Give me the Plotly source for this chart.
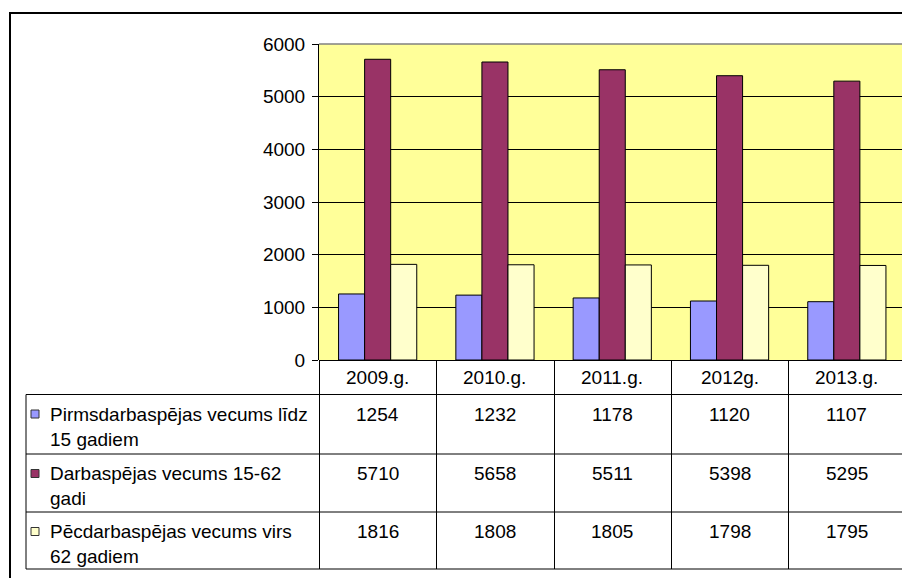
import plotly.graph_objects as go

categories = ["2009.g.", "2010.g.", "2011.g.", "2012g.", "2013.g."]
series_names = [
    "Pirmsdarbaspējas vecums līdz<br>15 gadiem",
    "Darbaspējas vecums 15-62<br>gadi",
    "Pēcdarbaspējas vecums virs<br>62 gadiem",
]
pre_working = [1254, 1232, 1178, 1120, 1107]
working = [5710, 5658, 5511, 5398, 5295]
post_working = [1816, 1808, 1805, 1798, 1795]
series_values = [pre_working, working, post_working]
colors = ["#9999FF", "#993366", "#FFFFCC"]
y_ticks = [0, 1000, 2000, 3000, 4000, 5000, 6000]

W, H = 902, 578
FONT = "Liberation Sans, Arial, sans-serif"
FS = 19


def px(x):
    return x / W


def py(y):
    return 1 - y / H


# plot area geometry (pixels)
PL, PR, PT, PB = 319, 902, 44, 360
CAT_W = 117.3
x_range = [-0.5, -0.5 + (PR - PL) / CAT_W]


def xcat(v):
    return PL + (v - x_range[0]) / (x_range[1] - x_range[0]) * (PR - PL)


xs = list(range(len(categories)))
fig = go.Figure()
for name, vals, col in zip(series_names, series_values, colors):
    fig.add_trace(go.Bar(
        x=xs, y=vals, name=name.replace("<br>", " "),
        marker=dict(color=col, line=dict(color="black", width=1)),
        hoverinfo="y",
    ))

shapes = []
annotations = []


def hline(y, x0, x1, color="black", width=1):
    shapes.append(dict(type="line", xref="paper", yref="paper",
                       x0=px(x0), x1=px(x1), y0=py(y), y1=py(y),
                       line=dict(color=color, width=width), layer="above"))


def vline(x, y0, y1, color="black", width=1):
    shapes.append(dict(type="line", xref="paper", yref="paper",
                       x0=px(x), x1=px(x), y0=py(y0), y1=py(y1),
                       line=dict(color=color, width=width), layer="above"))


# outer chart border (cropped at right/bottom)
shapes.append(dict(type="rect", xref="paper", yref="paper",
                   x0=px(10), x1=px(920), y0=py(13), y1=py(600),
                   line=dict(color="black", width=2), fillcolor="rgba(0,0,0,0)",
                   layer="below"))

# plot area top border (gray)
hline(PT, PL, PR, color="#808080", width=1.5)

# data table
TABLE_L = 26
row_edges = [394.5, 454, 512, 569]
for y in row_edges:
    hline(y, TABLE_L, PR)
vline(TABLE_L, row_edges[0], row_edges[-1])
for i in range(len(categories) + 1):
    xb = xcat(i - 0.5)
    if xb <= PR:
        vline(round(xb) + 0.5, PB, row_edges[-1])

# category header labels
for i, c in enumerate(categories):
    annotations.append(dict(x=i, xref="x", y=py(377.5), yref="paper",
                            text=c, showarrow=False, xanchor="center", yanchor="middle",
                            font=dict(family=FONT, size=FS, color="black")))

# series rows
for r, (name, vals, col) in enumerate(zip(series_names, series_values, colors)):
    top = row_edges[r]
    shapes.append(dict(type="rect", xref="paper", yref="paper",
                       x0=px(31), x1=px(39), y0=py(top + 15.5), y1=py(top + 23.5),
                       fillcolor=col, line=dict(color="#333333", width=1), layer="above"))
    annotations.append(dict(x=px(47.5), xref="paper", y=py(top + 7), yref="paper",
                            text=name, showarrow=False, xanchor="left", yanchor="top",
                            align="left",
                            font=dict(family=FONT, size=FS, color="black")))
    for i, v in enumerate(vals):
        annotations.append(dict(x=i, xref="x", y=py(top + 7), yref="paper",
                                text=str(v), showarrow=False, xanchor="center",
                                yanchor="top",
                                font=dict(family=FONT, size=FS, color="black")))

fig.update_layout(
    template="none",
    width=W, height=H,
    margin=dict(l=0, r=0, t=0, b=0, pad=0, autoexpand=False),
    paper_bgcolor="white",
    plot_bgcolor="#FFFF99",
    barmode="group", bargap=1 / 3, bargroupgap=0,
    showlegend=False,
    font=dict(family=FONT, size=FS, color="black"),
    xaxis=dict(domain=[px(PL), px(PR)], range=x_range, showticklabels=False,
               showgrid=False, zeroline=False, showline=False, ticks="",
               automargin=False, fixedrange=True),
    yaxis=dict(domain=[py(PB), py(PT)], range=[0, 6000], tickvals=y_ticks,
               showgrid=True, gridcolor="black", gridwidth=1,
               zeroline=True, zerolinecolor="black", zerolinewidth=1,
               showline=True, linecolor="black", linewidth=1,
               ticks="outside", ticklen=6, tickcolor="black", tickwidth=1,
               tickfont=dict(family=FONT, size=FS, color="black"),
               ticklabelstandoff=3, automargin=False, fixedrange=True),
    shapes=shapes,
    annotations=annotations,
)

post = (
    "document.documentElement.style.margin='0';"
    "document.documentElement.style.padding='0';"
    "document.documentElement.style.overflow='hidden';"
    "document.body.style.margin='0';"
    "document.body.style.padding='0';"
    "document.body.style.overflow='hidden';"
    "var gd=document.getElementById('{plot_id}');"
    "gd.style.position='fixed';gd.style.left='0px';gd.style.top='0px';"
)

fig.write_html("out.html", config={"displayModeBar": False}, post_script=post)
